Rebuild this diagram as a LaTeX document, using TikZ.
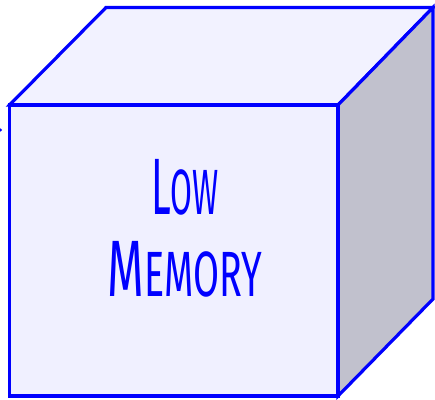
\documentclass[tikz,border=0pt]{standalone}
\usepackage{fontspec}
\usepackage{graphicx}
\newfontfamily\handfont[FakeStretch=0.55]{Fira Sans}
\definecolor{edge}{RGB}{0,0,255}
\definecolor{frontfill}{RGB}{240,240,255}
\definecolor{topfill}{RGB}{242,242,255}
\definecolor{sidefill}{RGB}{193,193,205}
\tikzset{
  face/.style={draw=edge, line width=3.2pt, line join=miter},
  word/.style={text=edge, inner sep=0pt, anchor=base},
}
\newcommand{\bigL}[1]{{\fontsize{80}{80}\selectfont #1}}
\newcommand{\smallL}[1]{{\fontsize{64}{64}\selectfont #1}}
\begin{document}
\begin{tikzpicture}[x=1pt,y=-1pt]
\useasboundingbox (0,0) rectangle (435,399);
\coordinate (fl) at (9.5,105);
\coordinate (fr) at (338,105);
\coordinate (br) at (338,396);
\coordinate (bl) at (9.5,396);
\coordinate (tl) at (106,7.5);
\coordinate (tr) at (433,7.5);
\coordinate (rb) at (433,299);
\path[face, fill=topfill] (fl) -- (tl) -- (tr) -- (fr) -- cycle;
\path[face, fill=sidefill] (fr) -- (tr) -- (rb) -- (br) -- cycle;
\path[face, fill=frontfill] (fl) -- (fr) -- (br) -- (bl) -- cycle;
\fill[edge] (0.5,130) circle (1.6);
\node[word] (low) at (185,214) {\scalebox{0.9}[1]{\handfont\bigL{L}\smallL{OW}}};
\node[word] (mem) at (185,296) {\scalebox{1.07}[1]{\handfont\bigL{M}\smallL{EMORY}}};
\end{tikzpicture}
\end{document}
